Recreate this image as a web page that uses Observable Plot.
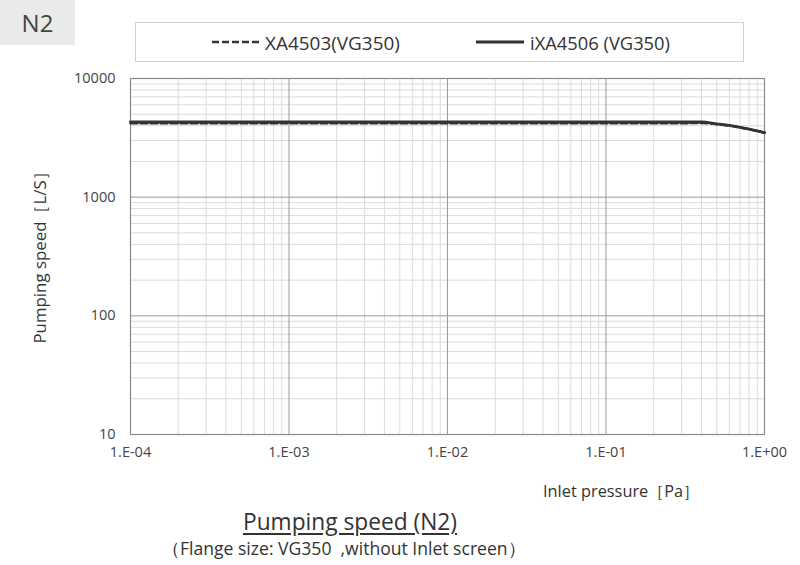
<!DOCTYPE html>
<html><head><meta charset="utf-8">
<script src="https://cdn.jsdelivr.net/npm/d3@7"></script>
<script src="https://cdn.jsdelivr.net/npm/@observablehq/plot@0.6"></script>
<style>
body{margin:0;background:#fff;font-family:"Open Sans","Liberation Sans",sans-serif;color:#333}
#wrap{position:relative;width:800px;height:565px;overflow:hidden}
.abs{position:absolute;white-space:nowrap}
</style></head><body>
<div id="wrap"></div>
<script>
const pressure = [1e-4, 1e-3, 1e-2, 0.1, 0.2, 0.3, 0.4, 0.5, 0.6, 0.7, 0.8, 0.9, 1.0];
const speedXA4503 = [4200, 4200, 4200, 4200, 4200, 4200, 4220, 4120, 4000, 3870, 3740, 3610, 3490];
const speedIXA4506 = [4300, 4300, 4300, 4300, 4300, 4300, 4300, 4150, 4020, 3880, 3750, 3620, 3500];
const seriesNames = ["XA4503(VG350)", "iXA4506 (VG350)"];
const xTicks = [1e-4, 1e-3, 1e-2, 1e-1, 1];
const xTickLabels = ["1.E-04", "1.E-03", "1.E-02", "1.E-01", "1.E+00"];
const yTicks = [10, 100, 1000, 10000];
const yTickLabels = ["10", "100", "1000", "10000"];

const minor = (majors) => {
  const out = [];
  for (let i = 0; i < majors.length - 1; i++)
    for (let k = 2; k <= 9; k++) out.push(majors[i] * k);
  return out;
};
const xMinor = minor(xTicks), yMinor = minor(yTicks);

const dataA = pressure.map((p, i) => ({p, s: speedXA4503[i]}));
const dataB = pressure.map((p, i) => ({p, s: speedIXA4506[i]}));

const chart = Plot.plot({
  width: 800, height: 565,
  marginTop: 78, marginBottom: 131, marginLeft: 130, marginRight: 36,
  style: {fontFamily: "'Open Sans', 'Liberation Sans', sans-serif", background: "transparent", fontSize: "14.5px"},
  x: {type: "log", domain: [1e-4, 1], axis: null},
  y: {type: "log", domain: [10, 10000], axis: null},
  marks: [
    Plot.ruleX(xMinor, {stroke: "#dcdcdc", strokeWidth: 1}),
    Plot.ruleY(yMinor, {stroke: "#dcdcdc", strokeWidth: 1}),
    Plot.ruleX(xTicks, {stroke: "#9a9a9a", strokeWidth: 1}),
    Plot.ruleY(yTicks, {stroke: "#9a9a9a", strokeWidth: 1}),
    Plot.frame({stroke: "#8a8a8a", strokeWidth: 1.2}),
    Plot.line(dataA, {x: "p", y: "s", stroke: "#333", strokeWidth: 2.5, strokeDasharray: "7,3", curve: "monotone-x"}),
    Plot.line(dataB, {x: "p", y: "s", stroke: "#333", strokeWidth: 2.8, curve: "monotone-x"}),
    Plot.text(xTicks, {x: d => d, frameAnchor: "bottom", dy: 22, text: (d, i) => xTickLabels[i], fontSize: 14.5, fill: "#444", textAnchor: "middle"}),
    Plot.text(yTicks, {y: d => d, frameAnchor: "left", dx: -15, text: (d, i) => yTickLabels[i], fontSize: 14.5, fill: "#444", textAnchor: "end"})
  ]
});
chart.style.position = "absolute";
chart.style.left = "0px";
chart.style.top = "0px";
const wrap = document.getElementById("wrap");
wrap.appendChild(chart);

function add(html, css) {
  const d = document.createElement("div");
  d.className = "abs";
  d.innerHTML = html;
  Object.assign(d.style, css);
  wrap.appendChild(d);
  return d;
}
// text placed with its left edge at x and vertical centre at cy; font size fitted to width w
function fitText(html, x, cy, w, base, extra) {
  const d = add(html, Object.assign({left: x + "px", top: "0px", fontSize: base + "px", lineHeight: "1", color: "#333"}, extra || {}));
  const mw = d.getBoundingClientRect().width;
  const fs = base * w / mw;
  d.style.fontSize = fs + "px";
  const h = d.getBoundingClientRect().height;
  d.style.top = (cy - h / 2) + "px";
  return d;
}
// N2 tag
add("N2", {left: "0px", top: "0px", width: "75px", height: "45px", background: "#e9ebe8", fontSize: "24px", lineHeight: "45px", textAlign: "center", color: "#444"});
// legend box
add("", {left: "135px", top: "22px", width: "607px", height: "38px", border: "1px solid #d0d0d0", background: "#fff"});
add('<svg width="50" height="6"><line x1="0" y1="3" x2="50" y2="3" stroke="#333" stroke-width="2.5" stroke-dasharray="7,3"/></svg>',
  {left: "212px", top: "39px", lineHeight: "0"});
add('<svg width="48" height="6"><line x1="0" y1="3" x2="48" y2="3" stroke="#333" stroke-width="2.8"/></svg>',
  {left: "476px", top: "39px", lineHeight: "0"});
fitText(seriesNames[0], 265, 43, 135, 16);
fitText(seriesNames[1], 530, 43, 140, 16);
// axis labels
fitText("Inlet pressure［Pa］", 543, 491, 157, 16);
const yl = fitText("Pumping speed［L/S］", 0, 0, 180, 16);
{
  const r = yl.getBoundingClientRect();
  yl.style.left = (40 - r.width / 2) + "px";
  yl.style.top = (253 - r.height / 2) + "px";
  yl.style.transform = "rotate(-90deg)";
}
// title
fitText("Pumping speed&nbsp;(N2)", 243, 522, 214, 20, {textDecoration: "underline", textUnderlineOffset: "3px"});
fitText("（Flange size: VG350&nbsp;&nbsp;,without Inlet screen）", 162, 549, 363, 16);
</script>
</body></html>
